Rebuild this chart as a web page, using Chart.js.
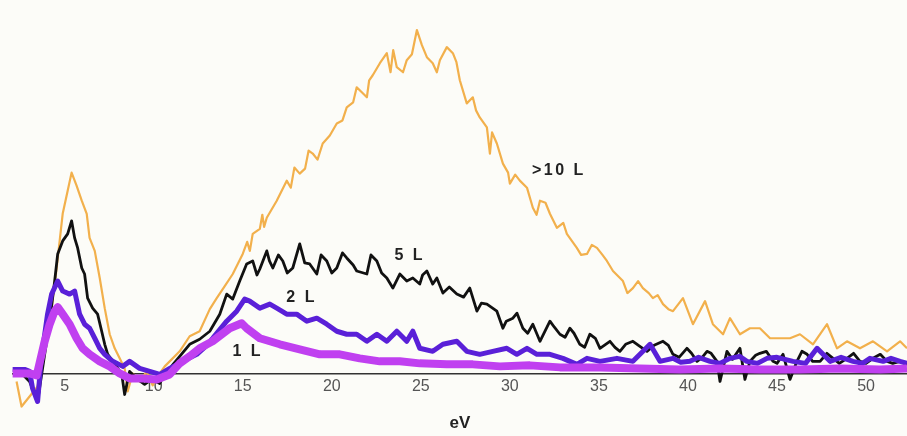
<!DOCTYPE html>
<html>
<head>
<meta charset="utf-8">
<script src="https://cdn.jsdelivr.net/npm/chart.js@4.4.1/dist/chart.umd.min.js"></script>
<style>
  html, body { margin: 0; padding: 0; background: #fcfcf8; }
  #wrap { width: 907px; height: 436px; position: relative; }
</style>
</head>
<body>
<div id="wrap"><canvas id="chart"></canvas></div>
<script>
// Spectra: x in eV, y in arbitrary intensity units
const ev10L = [2.3, 2.58, 3.03, 3.48, 3.99, 4.16, 4.55, 4.72, 4.89, 5.17, 5.39, 5.67, 5.96, 6.24, 6.40, 6.69, 6.97, 7.25, 7.53, 7.81,
  8.09, 8.37, 8.54, 8.82, 9.21, 9.61, 9.94, 10.34, 10.62, 10.90, 11.46, 12.02, 12.58, 13.15, 13.54, 13.99, 14.44, 15.0, 15.25, 15.4,
  15.56, 15.96, 16.1, 16.2, 16.35, 16.91, 17.47, 17.7, 17.9, 18.20, 18.5, 18.7, 18.93, 19.2, 19.49, 19.89, 20.28, 20.6, 20.84, 21.2,
  21.40, 21.97, 22.1, 22.30, 22.70, 23.09, 23.3, 23.45, 23.65, 24.0, 24.21, 24.5, 24.78, 25.06, 25.34, 25.67, 25.9, 26.07, 26.46, 26.80,
  27.0, 27.19, 27.58, 27.92, 28.1, 28.31, 28.71, 28.88, 29.0, 29.27, 29.61, 29.9, 30.0, 30.3, 30.56, 30.96, 31.29, 31.5, 31.69, 32.0,
  32.25, 32.64, 33.0, 33.20, 33.76, 34.0, 34.33, 34.6, 34.89, 35.2, 35.45, 35.79, 36.35, 36.6, 36.91, 37.2, 37.47, 37.8, 38.03, 38.3,
  38.60, 38.9, 39.16, 39.72, 40.28, 40.96, 41.40, 41.97, 42.36, 42.92, 43.48, 44.04, 44.61, 45.17, 45.73, 46.29, 47.02, 47.81, 48.37, 48.93,
  49.66, 50.39, 51.18, 51.91, 52.3];
const int10L = [-8, -33, -23, -13, 32, 49, 105, 132, 159, 182, 200, 187, 172, 159, 135, 122, 95, 65, 39, 25,
  15, 5, -18, 0, -8, 2, -12, 0, 7, 12, 22, 37, 42, 64, 75, 87, 99, 119, 131, 122,
  139, 144, 158, 146, 155, 172, 192, 185, 205, 199, 204, 222, 219, 213, 229, 237, 249, 252, 265, 270,
  285, 275, 292, 297, 309, 319, 300, 322, 305, 300, 312, 318, 342, 327, 315, 309, 300, 312, 325, 319,
  310, 292, 269, 275, 262, 255, 245, 219, 240, 229, 209, 200, 189, 198, 192, 185, 165, 158, 172, 170,
  159, 145, 150, 139, 125, 118, 119, 128, 125, 118, 112, 102, 92, 80, 85, 92, 85, 80, 75, 78,
  69, 64, 62, 75, 49, 72, 49, 39, 55, 39, 45, 45, 35, 35, 35, 39, 29, 49, 25, 32,
  25, 32, 22, 32, 25];

const ev5L = [2.1, 2.7, 3.03, 3.48, 3.76, 4.16, 4.44, 4.61, 4.89, 5.17, 5.39, 5.56, 5.73, 5.96, 6.12, 6.29, 6.57, 6.85, 7.08, 7.25,
  7.42, 7.70, 7.98, 8.20, 8.37, 8.65, 9.10, 9.49, 9.89, 10.34, 10.62, 10.90, 11.46, 12.02, 12.58, 13.15, 13.71, 14.10, 14.44, 14.83,
  15.22, 15.56, 15.8, 15.96, 16.35, 16.5, 16.69, 17.0, 17.25, 17.5, 17.81, 18.20, 18.48, 18.76, 19.16, 19.4, 19.72, 20.0, 20.28, 20.6,
  20.84, 21.2, 21.40, 21.97, 22.2, 22.53, 22.8, 23.09, 23.43, 23.82, 24.21, 24.55, 24.94, 25.1, 25.34, 25.67, 25.9, 26.24, 26.6, 27.02,
  27.4, 27.75, 28.15, 28.4, 28.71, 29.27, 29.61, 29.8, 30.17, 30.4, 30.73, 31.0, 31.29, 31.69, 32.25, 32.5, 32.81, 33.1, 33.37, 33.6,
  33.93, 34.2, 34.49, 34.8, 35.06, 35.3, 35.62, 35.9, 36.18, 36.5, 36.91, 37.3, 37.70, 38.1, 38.60, 38.9, 39.16, 39.5, 39.94, 40.2,
  40.51, 40.8, 41.07, 41.3, 41.63, 41.80, 42.19, 42.5, 42.92, 43.20, 43.48, 43.8, 44.04, 44.4, 44.78, 45.0, 45.34, 45.73, 46.12, 46.4,
  46.69, 47.0, 47.42, 47.8, 48.15, 48.5, 48.93, 49.3, 49.66, 50.0, 50.39, 50.8, 51.18, 51.5, 51.91, 52.3];
const int5L = [0, -2, -8, -28, 5, 52, 92, 119, 132, 139, 152, 135, 125, 105, 99, 75, 65, 59, 42, 29,
  19, 12, 5, 0, -21, 2, -6, -11, -6, -10, 0, 5, 17, 29, 34, 42, 59, 79, 74, 92,
  109, 112, 98, 104, 122, 112, 105, 118, 112, 100, 105, 129, 110, 109, 99, 118, 112, 100, 105, 120,
  115, 108, 102, 99, 118, 112, 100, 95, 85, 99, 92, 95, 89, 98, 102, 89, 95, 80, 86, 79,
  76, 85, 62, 70, 69, 62, 45, 52, 55, 60, 45, 40, 49, 32, 52, 46, 39, 36, 45, 40,
  29, 26, 39, 35, 25, 28, 32, 26, 22, 29, 32, 27, 22, 28, 32, 28, 19, 16, 25, 20,
  12, 16, 22, 20, 12, -8, 22, 14, 25, -6, 12, 18, 20, 22, 12, 10, 19, -6, 12, 22,
  19, 12, 12, 20, 15, 10, 15, 20, 12, 10, 15, 19, 12, 10, 12, 9];

const ev2L = [2.08, 2.75, 3.03, 3.20, 3.48, 3.71, 3.88, 4.04, 4.27, 4.61, 4.89, 5.28, 5.56, 5.84, 6.12, 6.40, 6.69, 6.97, 7.25, 7.70,
  8.26, 8.65, 9.21, 9.78, 10.34, 10.90, 11.63, 12.42, 12.92, 13.31, 14.10, 14.66, 15.11, 15.39, 15.96, 16.52, 16.91, 17.47, 18.03, 18.60,
  19.16, 19.72, 20.28, 20.84, 21.40, 21.97, 22.53, 23.09, 23.65, 24.21, 24.55, 24.94, 25.67, 26.24, 27.02, 27.58, 28.31, 29.04, 29.83, 30.39,
  30.96, 31.52, 32.25, 32.98, 33.76, 34.33, 35.06, 36.01, 36.91, 37.87, 38.43, 39.16, 39.6, 40.11, 40.6, 41.24, 41.8, 42.36, 42.9, 43.31,
  43.9, 44.44, 45.0, 45.90, 46.6, 47.25, 47.98, 48.6, 49.27, 49.8, 50.22, 50.96, 51.4, 51.91, 52.3];
const int2L = [4, 4, 2, -15, -28, 19, 39, 59, 79, 92, 82, 79, 82, 59, 49, 45, 35, 25, 19, 12,
  7, 12, 5, 2, -1, 5, 12, 19, 27, 35, 52, 62, 74, 72, 65, 69, 65, 59, 59, 52,
  55, 49, 42, 39, 39, 32, 39, 32, 42, 32, 42, 25, 22, 29, 32, 22, 19, 22, 25, 19,
  25, 19, 19, 15, 9, 15, 12, 15, 12, 29, 12, 15, 11, 12, 16, 12, 10, 15, 17, 12,
  10, 15, 16, 12, 10, 25, 12, 16, 12, 10, 15, 12, 15, 12, 10];

const ev1L = [2.08, 3.03, 3.43, 3.88, 4.16, 4.44, 4.61, 4.89, 5.28, 5.67, 6.01, 6.40, 6.97, 7.53, 8.09, 8.65, 9.38, 10.17, 10.90, 11.46,
  12.02, 12.58, 13.31, 14.27, 14.94, 15.22, 15.96, 17.08, 18.20, 19.33, 20.45, 21.57, 22.70, 23.82, 24.94, 26.46, 27.92, 29.44, 31.12, 32.81,
  35.06, 37.30, 39.55, 41.80, 44.04, 46.29, 48.54, 50.79, 52.3];
const int1L = [0, 0, -2, 32, 49, 62, 66, 59, 49, 35, 25, 19, 12, 7, 0, -5, -5, -6, -1, 10,
  17, 25, 32, 45, 50, 45, 35, 29, 24, 19, 19, 15, 12, 12, 10, 9, 9, 7, 8, 6,
  6, 5, 4, 5, 4, 4, 5, 4, 5];

const tickValues = [5, 10, 15, 20, 25, 30, 35, 40, 45, 50];

// Curve labels and where they sit (eV, intensity)
const labelTexts = [">10 L", "5 L", "2 L", "1 L"];
const labelEv = [32.75, 24.38, 18.31, 15.28];
const labelLevel = [202, 117, 76, 22];

const toPoints = (xs, ys) => xs.map((x, i) => ({ x: x, y: ys[i] }));

const curveLabels = {
  id: "curveLabels",
  afterDatasetsDraw(chart) {
    const { ctx, scales } = chart;
    ctx.save();
    ctx.font = 'bold 16px "Liberation Sans", Arial, sans-serif';
    ctx.fillStyle = "#222";
    ctx.textAlign = "center";
    ctx.textBaseline = "middle";
    ctx.letterSpacing = "2.5px";
    labelTexts.forEach((t, i) => {
      ctx.fillText(t, scales.x.getPixelForValue(labelEv[i]), scales.y.getPixelForValue(labelLevel[i]));
    });
    ctx.restore();
  },
};

// first dataset is drawn on top
const datasets = [
  { data: toPoints(ev1L, int1L), borderColor: "#c040f0", borderWidth: 8 },
  { data: toPoints(ev2L, int2L), borderColor: "#5a20d8", borderWidth: 5 },
  { data: toPoints(ev5L, int5L), borderColor: "#111111", borderWidth: 2.8 },
  { data: toPoints(ev10L, int10L), borderColor: "#f2b04c", borderWidth: 2.2 },
].map((d) => ({ ...d, pointRadius: 0, tension: 0, clip: false, borderJoinStyle: "round", fill: false }));

new Chart(document.getElementById("chart"), {
  type: "line",
  data: { datasets },
  plugins: [curveLabels],
  options: {
    responsive: true,
    maintainAspectRatio: false,
    animation: false,
    layout: { padding: { top: 12, left: 13, right: 0, bottom: 2 } },
    plugins: { legend: { display: false }, tooltip: { enabled: false } },
    scales: {
      x: {
        type: "linear",
        min: 2.1,
        max: 52.3,
        grid: { display: false, drawTicks: false },
        border: { display: true, color: "#333", width: 1.5 },
        afterBuildTicks: (axis) => {
          axis.ticks = tickValues.map((v) => ({ value: v }));
        },
        ticks: {
          color: "#555",
          padding: 4,
          font: { family: '"Liberation Sans", Arial, sans-serif', size: 16 },
        },
        title: {
          display: true,
          text: "eV",
          color: "#222",
          font: { family: '"Liberation Sans", Arial, sans-serif', size: 17, weight: "bold" },
          padding: { top: 13, bottom: 0 },
        },
      },
      y: { display: false, min: 0, max: 360 },
    },
  },
});
</script>
</body>
</html>
